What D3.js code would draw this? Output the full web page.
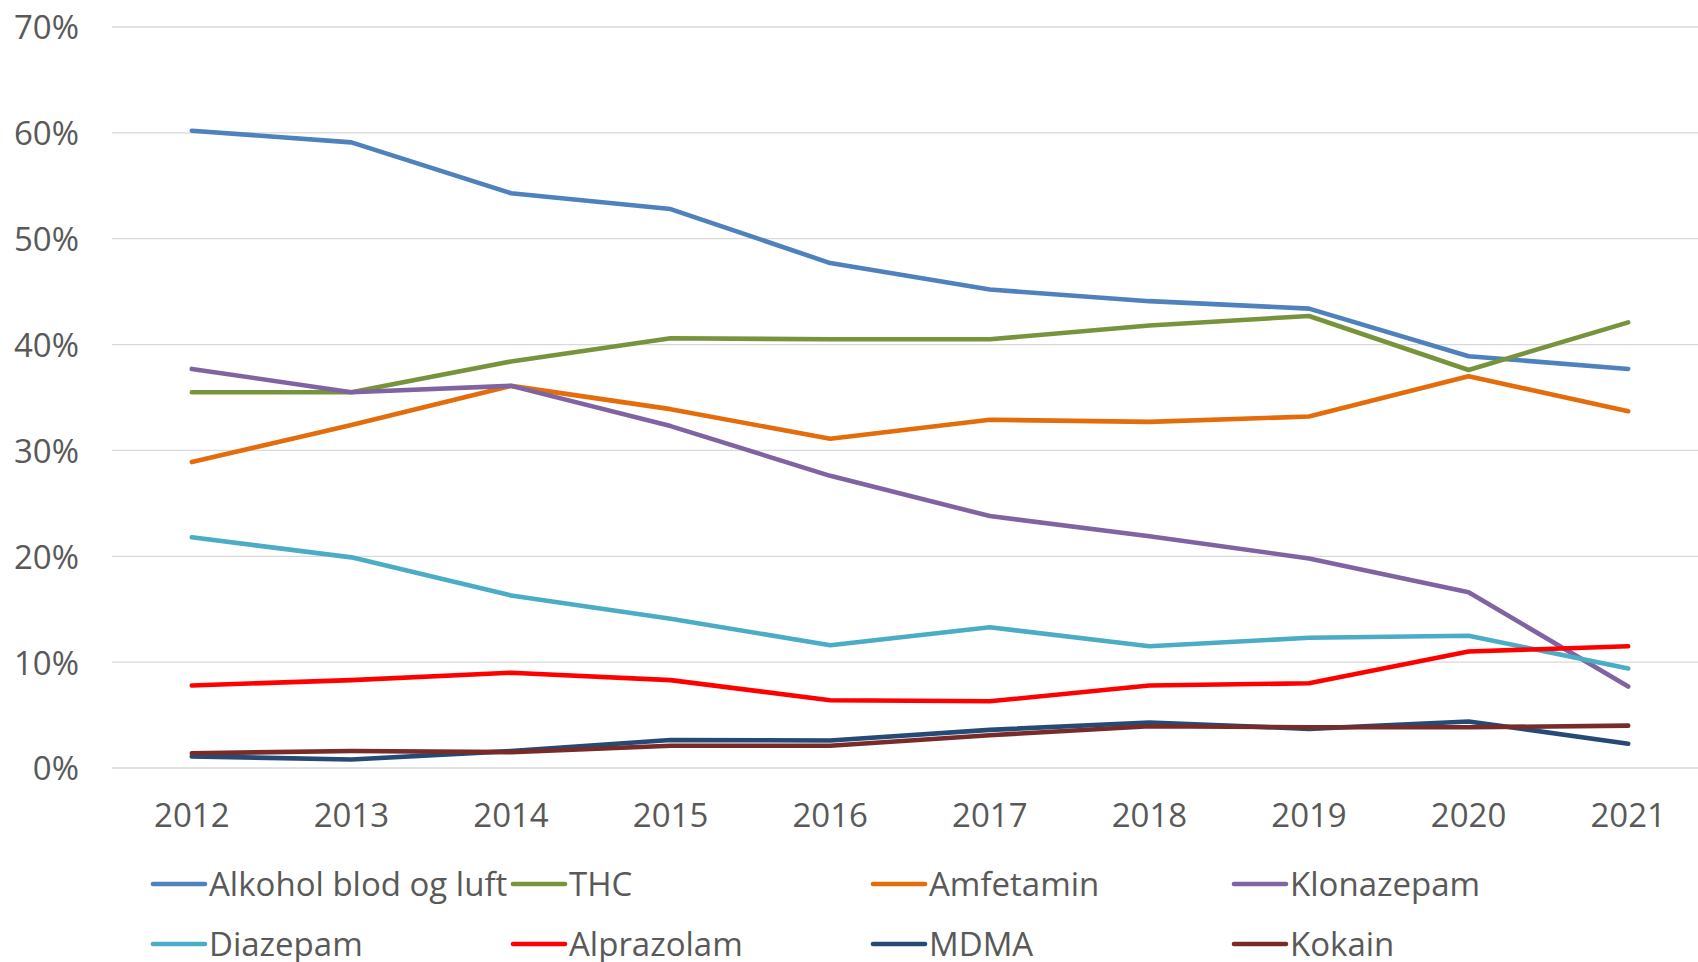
<!DOCTYPE html>
<html>
<head>
<meta charset="utf-8">
<script src="https://cdn.jsdelivr.net/npm/d3@7"></script>
<style>
  html, body { margin: 0; padding: 0; background: #fff; }
  svg { display: block; font-family: "Open Sans", sans-serif; }
</style>
</head>
<body>
<svg id="chart" width="1698" height="962"></svg>
<script>
var years = ["2012", "2013", "2014", "2015", "2016", "2017", "2018", "2019", "2020", "2021"];
var yTicks = [0, 0.1, 0.2, 0.3, 0.4, 0.5, 0.6, 0.7];

var alkohol    = [60.2, 59.1, 54.3, 52.8, 47.7, 45.2, 44.1, 43.4, 38.9, 37.7];
var thc        = [35.5, 35.5, 38.4, 40.6, 40.5, 40.5, 41.8, 42.7, 37.6, 42.1];
var amfetamin  = [28.9, 32.4, 36.1, 33.9, 31.1, 32.9, 32.7, 33.2, 37.0, 33.7];
var klonazepam = [37.7, 35.5, 36.1, 32.3, 27.6, 23.8, 21.9, 19.8, 16.6, 7.7];
var diazepam   = [21.8, 19.9, 16.3, 14.1, 11.6, 13.3, 11.5, 12.3, 12.5, 9.4];
var alprazolam = [7.8, 8.3, 9.0, 8.3, 6.4, 6.3, 7.8, 8.0, 11.0, 11.5];
var mdma       = [1.1, 0.8, 1.6, 2.65, 2.6, 3.6, 4.3, 3.7, 4.4, 2.3];
var kokain     = [1.4, 1.6, 1.5, 2.1, 2.1, 3.1, 3.95, 3.85, 3.85, 4.0];

var series = [
  { name: "Alkohol blod og luft", values: alkohol, color: "#4F81BD" },
  { name: "THC", values: thc, color: "#77933C" },
  { name: "Amfetamin", values: amfetamin, color: "#E46C0A" },
  { name: "Klonazepam", values: klonazepam, color: "#8064A2" },
  { name: "Diazepam", values: diazepam, color: "#4BACC6" },
  { name: "Alprazolam", values: alprazolam, color: "#FF0000" },
  { name: "MDMA", values: mdma, color: "#254A76" },
  { name: "Kokain", values: kokain, color: "#772C2A" }
];

var svg = d3.select("#chart");
var margin = {top: 27, left: 112, bottom: 768, right: 1708};

var x = d3.scaleBand()
  .domain(years)
  .range([margin.left, margin.right]);
var y = d3.scaleLinear()
  .domain([0, 0.7])
  .range([margin.bottom, margin.top]);

// gridlines
svg.append("g")
  .selectAll("line")
  .data(yTicks)
  .enter().append("line")
    .attr("x1", margin.left)
    .attr("x2", 1698)
    .attr("y1", function(d) { return y(d); })
    .attr("y2", function(d) { return y(d); })
    .attr("stroke", "#D9D9D9")
    .attr("stroke-width", 1.3);

var yAxis = svg.append("g")
  .attr("transform", "translate(" + 79 + ",0)")
  .call(d3.axisLeft(y).tickValues(yTicks).tickFormat(d3.format(".0%")).tickSize(0).tickPadding(0));
yAxis.attr("font-family", null).attr("font-size", 33);
yAxis.select(".domain").remove();
yAxis.selectAll("text").attr("fill", "#595959").attr("dy", "0.36em");

var xAxis = svg.append("g")
  .attr("transform", "translate(0," + margin.bottom + ")")
  .call(d3.axisBottom(x).tickSize(0).tickPadding(0));
xAxis.attr("font-family", null).attr("font-size", 33);
xAxis.select(".domain").remove();
xAxis.selectAll("text").attr("fill", "#595959").attr("dy", "1.78em");

var line = d3.line()
  .x(function(d, i) { return x(years[i]) + x.bandwidth() / 2; })
  .y(function(d) { return y(d / 100); });

svg.append("g")
  .selectAll("path")
  .data(series)
  .enter().append("path")
    .attr("fill", "none")
    .attr("stroke", function(d) { return d.color; })
    .attr("stroke-width", 4.6)
    .attr("stroke-linejoin", "round")
    .attr("stroke-linecap", "round")
    .attr("d", function(d) { return line(d.values); });

// legend, 4 columns x 2 rows (second row is cut by the bottom edge, as in the original)
var legendX = [153, 513, 873, 1234];
var legendY = [884, 944];
var legend = svg.append("g")
  .selectAll("g")
  .data(series)
  .enter().append("g")
    .attr("transform", function(d, i) { return "translate(" + legendX[i % 4] + "," + legendY[Math.floor(i / 4)] + ")"; });
legend.append("line")
  .attr("x1", 0)
  .attr("x2", 52)
  .attr("stroke", function(d) { return d.color; })
  .attr("stroke-width", 4.6)
  .attr("stroke-linecap", "round");
legend.append("text")
  .attr("x", 56)
  .attr("dy", "0.36em")
  .attr("font-size", 33)
  .attr("fill", "#595959")
  .text(function(d) { return d.name; });
</script>
</body>
</html>
